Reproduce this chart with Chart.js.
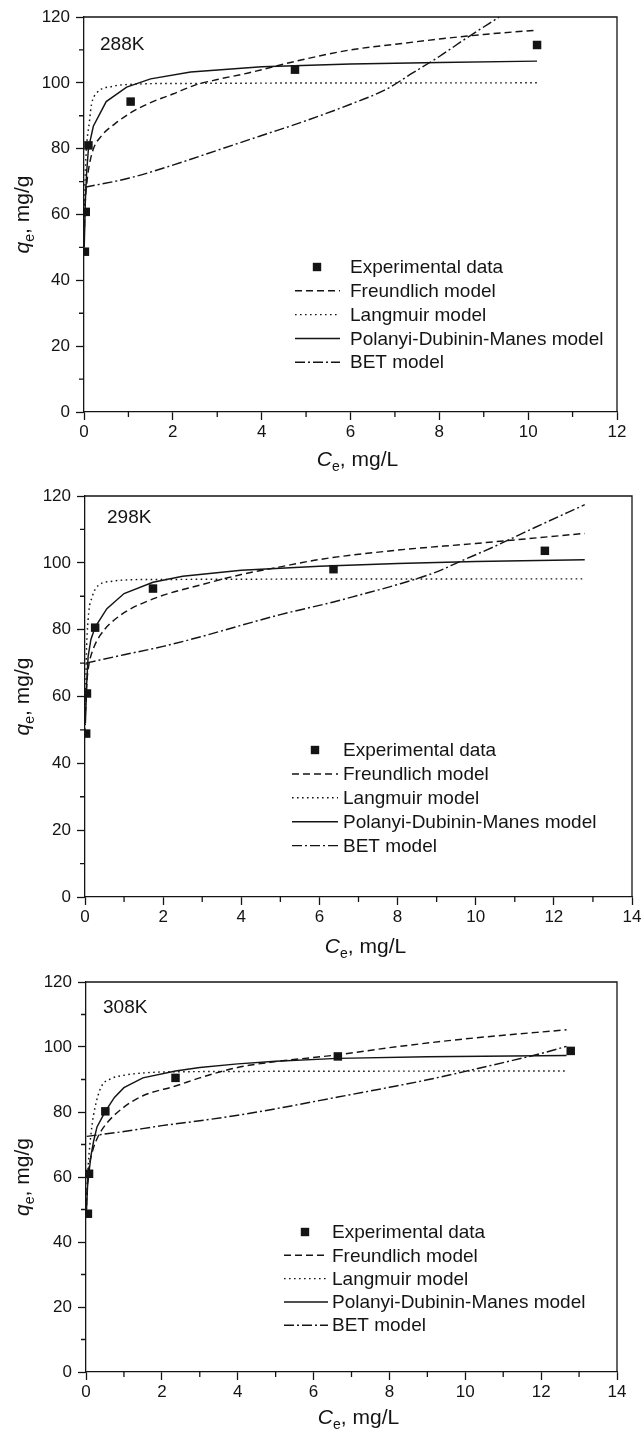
<!DOCTYPE html>
<html>
<head>
<meta charset="utf-8">
<title>Adsorption isotherms</title>
<script src="https://cdn.jsdelivr.net/npm/chart.js@4.4.1/dist/chart.umd.min.js"></script>
<style>
  body { margin: 0; background: #fff; }
  #wrap { position: relative; width: 644px; height: 1434px; overflow: hidden; }
  #wrap canvas { position: absolute; left: 0; }
</style>
</head>
<body>
<div id="wrap">
  <canvas id="c288" width="644" height="480" style="top:0px"></canvas>
  <canvas id="c298" width="644" height="490" style="top:470px"></canvas>
  <canvas id="c308" width="644" height="474" style="top:960px"></canvas>
</div>
<script>
// series names + axis ticks
const seriesNames = ['Experimental data', 'Freundlich model', 'Langmuir model', 'Polanyi-Dubinin-Manes model', 'BET model'];
const temps = ['288K', '298K', '308K'];
const yTicks = [0, 20, 40, 60, 80, 100, 120];
const xTicks12 = [0, 2, 4, 6, 8, 10, 12];
const xTicks14 = [0, 2, 4, 6, 8, 10, 12, 14];

// 288K  [Ce, qe]
const exp288 = [[0.02, 48.7], [0.04, 60.8], [0.1, 81], [1.05, 94.3], [4.75, 104], [10.2, 111.5]];
const freu288 = [[0.01, 56], [0.03, 64], [0.06, 69], [0.1, 73.5], [0.2, 79.5], [0.4, 84], [0.7, 87.6], [1.1, 91.3], [1.5, 94], [2, 96.6], [2.5, 99.3], [3, 101], [3.7, 103], [4.75, 106.5], [6, 110], [7, 111.7], [8, 113.3], [9, 114.7], [10.2, 116]];
const lang288 = [[0.005, 52], [0.02, 68], [0.05, 79], [0.12, 88], [0.17, 93.5], [0.28, 96.8], [0.66, 99], [1, 99.5], [2, 99.8], [10.2, 100]];
const pdm288 = [[0.005, 50], [0.03, 64], [0.06, 73], [0.1, 80], [0.21, 86.8], [0.5, 94.3], [0.96, 98.7], [1.5, 101.2], [2.4, 103.3], [4, 104.9], [6, 105.7], [8, 106.2], [10.2, 106.6]];
const bet288 = [[0.02, 68.3], [1, 71], [2, 75], [3, 79.5], [4, 84], [5, 88.5], [6, 93.5], [6.8, 98], [7.4, 103], [8, 108], [8.6, 113.5], [9.35, 120]];

// 298K
const exp298 = [[0.03, 48.9], [0.05, 60.9], [0.26, 80.6], [1.74, 92.3], [6.36, 98.1], [11.77, 103.6]];
const freu298 = [[0.01, 55], [0.05, 64.5], [0.1, 69.5], [0.2, 73.9], [0.4, 78.5], [0.87, 84], [1.74, 89.2], [3, 93.5], [4, 96.5], [5, 98.8], [6, 101], [8, 103.8], [10, 105.8], [12.79, 108.8]];
const lang298 = [[0.005, 50], [0.03, 70], [0.08, 83], [0.19, 90], [0.35, 93.3], [0.7, 94.5], [1.5, 95], [12.79, 95.2]];
const pdm298 = [[0.01, 52], [0.04, 63], [0.08, 72], [0.15, 77], [0.26, 80.8], [0.56, 86.3], [1, 90.8], [1.74, 94.2], [2.5, 96], [4, 97.8], [6, 99], [8, 99.8], [10, 100.4], [12.79, 100.9]];
const bet298 = [[0.02, 70], [1, 72.5], [2, 75], [3, 78], [4, 81.3], [5, 84.5], [6.36, 88.3], [7, 90.3], [8, 93.5], [9, 97.3], [9.6, 100.4], [10.5, 105], [11.5, 110.5], [12.79, 117.4]];

// 308K
const exp308 = [[0.05, 48.7], [0.08, 61], [0.51, 80.2], [2.36, 90.5], [6.64, 97.1], [12.78, 98.8]];
const freu308 = [[0.01, 51], [0.04, 58.5], [0.08, 63], [0.18, 68.3], [0.3, 72], [0.51, 76], [1, 81.5], [1.5, 85], [2.36, 88], [3, 90.5], [4, 93.7], [5, 95.5], [6.64, 97.6], [8, 99.8], [10, 102.5], [12.67, 105.3]];
const lang308 = [[0.01, 50], [0.04, 60], [0.08, 67], [0.16, 76], [0.24, 81.5], [0.4, 87.7], [0.67, 90.3], [1, 91.3], [1.5, 92], [2.5, 92.4], [12.67, 92.6]];
const pdm308 = [[0.01, 49], [0.04, 57], [0.08, 61.5], [0.13, 66.5], [0.2, 71], [0.29, 75.4], [0.51, 80.2], [0.75, 84.5], [1, 87.5], [1.5, 90.5], [2.36, 92.6], [3, 93.7], [4, 94.8], [5, 95.6], [6.64, 96.5], [9, 97], [12.67, 97.4]];
const bet308 = [[0.02, 72.5], [1, 74], [2, 75.8], [3, 77.3], [4, 79], [5, 81], [6.64, 84.6], [8, 87.6], [9, 89.9], [10, 92.5], [11, 95.2], [12, 98], [12.67, 100.2]];

const INK = '#141414';
const FONT = '"Liberation Sans", Arial, Helvetica, sans-serif';
const dashes = [null, [7, 4], [1.6, 3.4], [], [10, 3, 2, 3]];

const toPts = arr => arr.map(p => ({ x: p[0], y: p[1] }));

// draws "C" + subscript "e" + rest, centred on cx
function drawSubText(ctx, cx, y, main, sub, rest) {
  const big = '21px ' + FONT, small = '14px ' + FONT;
  ctx.font = 'italic ' + big;
  const w1 = ctx.measureText(main).width;
  ctx.font = small;
  const w2 = ctx.measureText(sub).width;
  ctx.font = big;
  const w3 = ctx.measureText(rest).width;
  let x = cx - (w1 + w2 + w3) / 2;
  ctx.textAlign = 'left';
  ctx.textBaseline = 'alphabetic';
  ctx.font = 'italic ' + big; ctx.fillText(main, x, y); x += w1;
  ctx.font = small; ctx.fillText(sub, x, y + 5); x += w2;
  ctx.font = big; ctx.fillText(rest, x, y);
}

const decor = {
  id: 'decor',
  afterDraw(chart, args, o) {
    const ctx = chart.ctx;
    const a = chart.chartArea;
    const xs = chart.scales.x, ys = chart.scales.y;
    ctx.save();
    ctx.strokeStyle = INK;
    ctx.fillStyle = INK;
    ctx.lineWidth = 1.3;
    ctx.setLineDash([]);

    // top + right frame
    ctx.beginPath();
    ctx.moveTo(a.left, a.top);
    ctx.lineTo(a.right, a.top);
    ctx.lineTo(a.right, a.bottom);
    ctx.stroke();

    // minor ticks
    ctx.beginPath();
    for (let v = 1; v < xs.max; v += 2) {
      const px = xs.getPixelForValue(v);
      ctx.moveTo(px, a.bottom); ctx.lineTo(px, a.bottom + 5);
    }
    for (let v = 10; v < ys.max; v += 20) {
      const py = ys.getPixelForValue(v);
      ctx.moveTo(a.left, py); ctx.lineTo(a.left - 5, py);
    }
    ctx.stroke();

    // temperature label
    ctx.font = '19px ' + FONT;
    ctx.textAlign = 'left';
    ctx.textBaseline = 'alphabetic';
    ctx.fillText(o.label, o.labelX, o.labelY);

    // axis titles
    drawSubText(ctx, (a.left + a.right) / 2 + 7, o.xTitleY, 'C', 'e', ', mg/L');
    ctx.save();
    ctx.translate(29, (a.top + a.bottom) / 2);
    ctx.rotate(-Math.PI / 2);
    drawSubText(ctx, 0, 0, 'q', 'e', ', mg/g');
    ctx.restore();

    // legend
    const lg = o.legend;
    chart.data.datasets.forEach((ds, i) => {
      const y = lg.y + i * lg.gap;
      if (i === 0) {
        ctx.fillRect(lg.mx - 4.2, y - 4.2, 8.4, 8.4);
      } else {
        ctx.save();
        ctx.lineWidth = ds.borderWidth;
        ctx.setLineDash(ds.borderDash);
        ctx.beginPath();
        ctx.moveTo(lg.x0, y); ctx.lineTo(lg.x1, y);
        ctx.stroke();
        ctx.restore();
      }
      ctx.font = '19px ' + FONT;
      ctx.textBaseline = 'middle';
      ctx.textAlign = 'left';
      ctx.fillText(ds.label, lg.tx, y + 1);
    });
    ctx.restore();
  }
};

function makePanel(p) {
  const datasets = p.series.map((s, i) => {
    if (i === 0) {
      return {
        label: seriesNames[i], data: toPts(s), showLine: false,
        pointStyle: 'rect', pointRadius: 6, pointHoverRadius: 6,
        backgroundColor: INK, borderWidth: 0
      };
    }
    return {
      label: seriesNames[i], data: toPts(s), showLine: true,
      pointRadius: 0, borderColor: INK, borderWidth: 1.45, borderDash: dashes[i],
      cubicInterpolationMode: i === 3 ? 'default' : 'monotone',
      tension: i === 3 ? 0 : 0.4
    };
  });

  new Chart(document.getElementById(p.id), {
    type: 'scatter',
    data: { datasets: datasets },
    plugins: [decor],
    options: {
      responsive: false,
      animation: false,
      devicePixelRatio: 1,
      layout: { padding: { left: 0, right: p.padRight, top: p.padTop, bottom: 0 } },
      plugins: {
        legend: { display: false },
        tooltip: { enabled: false },
        decor: { label: p.label, labelX: p.labelX, labelY: p.labelY, xTitleY: p.xTitleY, legend: p.legend }
      },
      scales: {
        x: {
          type: 'linear', min: 0, max: p.xTicks[p.xTicks.length - 1],
          afterBuildTicks: s => { s.ticks = p.xTicks.map(v => ({ value: v })); },
          afterFit: s => { s.height = p.xAxisH; },
          ticks: { color: INK, font: { family: FONT, size: 17 }, padding: 2, maxRotation: 0 },
          grid: { drawOnChartArea: false, tickLength: 8, tickColor: INK, tickWidth: 1.3 },
          border: { color: INK, width: 1.3 }
        },
        y: {
          min: 0, max: 120,
          afterBuildTicks: s => { s.ticks = yTicks.map(v => ({ value: v })); },
          afterFit: s => { s.width = p.yAxisW; },
          ticks: { color: INK, font: { family: FONT, size: 17 }, padding: 6 },
          grid: { drawOnChartArea: false, tickLength: 8, tickColor: INK, tickWidth: 1.3 },
          border: { color: INK, width: 1.3 }
        }
      }
    }
  });
}

makePanel({
  id: 'c288', label: temps[0], xTicks: xTicks12,
  series: [exp288, freu288, lang288, pdm288, bet288],
  yAxisW: 84, padRight: 27, padTop: 17, xAxisH: 68,
  labelX: 100, labelY: 50, xTitleY: 466,
  legend: { mx: 317, x0: 295, x1: 340, tx: 350, y: 267, gap: 23.8 }
});

makePanel({
  id: 'c298', label: temps[1], xTicks: xTicks14,
  series: [exp298, freu298, lang298, pdm298, bet298],
  yAxisW: 85, padRight: 12, padTop: 26, xAxisH: 63,
  labelX: 107, labelY: 53, xTitleY: 483,
  legend: { mx: 315, x0: 292, x1: 338, tx: 343, y: 280, gap: 23.9 }
});

makePanel({
  id: 'c308', label: temps[2], xTicks: xTicks14,
  series: [exp308, freu308, lang308, pdm308, bet308],
  yAxisW: 86, padRight: 27, padTop: 22, xAxisH: 62,
  labelX: 103, labelY: 53, xTitleY: 464,
  legend: { mx: 305, x0: 284, x1: 328, tx: 332, y: 272, gap: 23.3 }
});
</script>
</body>
</html>
